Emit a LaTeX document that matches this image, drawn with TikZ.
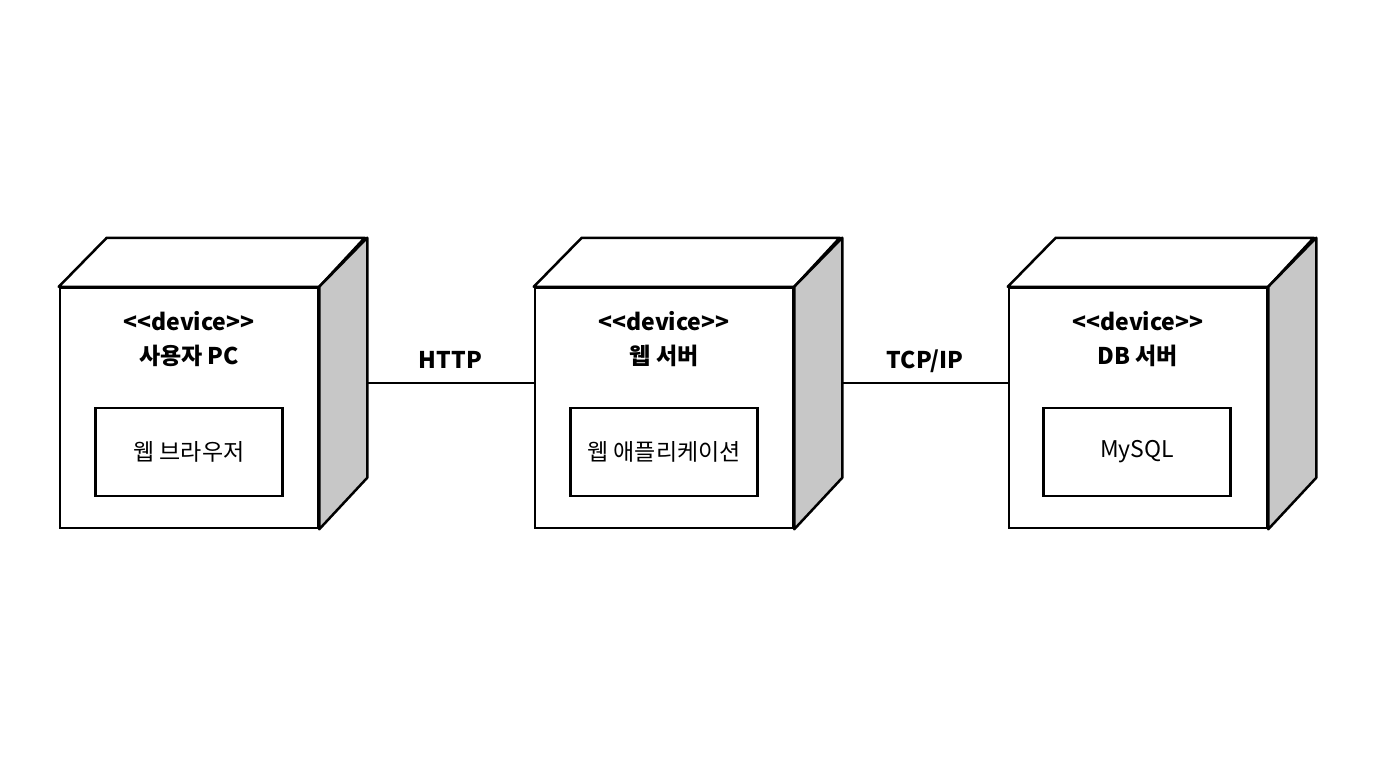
\documentclass[tikz,border=0pt]{standalone}
\usepackage{fontspec}
\setmainfont{Noto Sans CJK KR}
\usetikzlibrary{positioning}
\newcommand{\stereo}[1]{<\kern0pt<#1>\kern0pt>}
\tikzset{
  face/.style={draw, line width=2.5pt, fill=white, minimum width=258pt, minimum height=240pt},
  part/.style={draw, line width=2.5pt, minimum width=187pt, minimum height=88pt, font=\fontsize{23}{26}\selectfont},
  title/.style={font=\bfseries\fontsize{23}{34}\selectfont, align=center},
  link/.style={line width=2.5pt},
}
\begin{document}
\begin{tikzpicture}[x=1pt, y=-1pt]
  \useasboundingbox (0,0) rectangle (1376,768);
  \node[face] (pc) at (189, 408) {};
  \node[face] (web) at (664, 408) {};
  \node[face] (db) at (1138, 408) {};

  \foreach \n in {pc, web, db} {
    \draw[line width=2.5pt, line join=round, fill=white] (\n.north west) -- ++(48,-49) -- ++(258,0) -- (\n.north east) -- cycle;
    \draw[line width=2.5pt, line join=round, fill=black!22] (\n.north east) -- ++(48,-49) -- ++(0,240) -- (\n.south east) -- cycle;
  }

  \node[title] at (189, 339) {\stereo{device}\\사용자 PC};
  \node[title] at (664, 339) {\stereo{device}\\웹 서버};
  \node[title] at (1138, 339) {\stereo{device}\\DB 서버};

  \node[part] (browser) at (189, 452) {웹 브라우저};
  \node[part] (app) at (664, 452) {웹 애플리케이션};
  \node[part] (mysql) at (1137, 452) {MySQL};

  \coordinate (pcR) at ([shift={(48,-25)}]pc.east);
  \coordinate (webR) at ([shift={(48,-25)}]web.east);
  \draw[link] (pcR) -- node[above=15pt, anchor=base, title] {HTTP} (pcR -| web.west);
  \draw[link] (webR) -- node[above=15pt, anchor=base, title] {TCP/IP} (webR -| db.west);
\end{tikzpicture}
\end{document}
